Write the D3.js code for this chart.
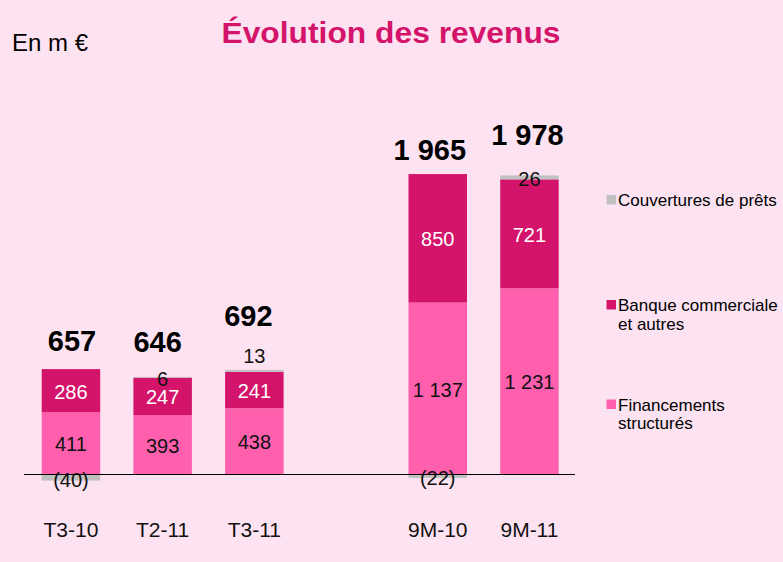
<!DOCTYPE html>
<html>
<head>
<meta charset="utf-8">
<script src="https://cdn.jsdelivr.net/npm/d3@7"></script>
<style>
  html, body { margin: 0; padding: 0; background: #FDE3F1; }
  svg { display: block; font-family: "Liberation Sans", Arial, sans-serif; }
</style>
</head>
<body>
<svg id="chart" width="783" height="562"></svg>
<script>
// ---- Data ----
const categories = ["T3-10", "T2-11", "T3-11", "9M-10", "9M-11"];
const financements = [411, 393, 438, 1137, 1231];
const banque = [286, 247, 241, 850, 721];
const couvertures = [-40, 6, 13, -22, 26];
const totals = [657, 646, 692, 1965, 1978];
const totalLabels = ["657", "646", "692", "1 965", "1 978"];
const finLabels = ["411", "393", "438", "1 137", "1 231"];
const banqueLabels = ["286", "247", "241", "850", "721"];
const couvLabels = ["(40)", "6", "13", "(22)", "26"];
const seriesNames = ["Couvertures de prêts", "Banque commerciale|et autres", "Financements|structurés"];

// ---- Layout ----
const colors = { fin: "#FF5FAD", banque: "#D4136A", couv: "#C0C0C0" };
const svg = d3.select("#chart");
const W = 783, H = 562;
svg.append("rect").attr("width", W).attr("height", H).attr("fill", "#FDE3F1");

const slots = ["T3-10", "T2-11", "T3-11", "_gap", "9M-10", "9M-11"];
const x = d3.scaleBand().domain(slots).range([25.1, 575.3])
  .paddingInner(0.362).paddingOuter(0.181);
const y = d3.scaleLinear().domain([0, 2000]).range([474.5, 172.1]);

const rows = categories.map((c, i) => ({
  cat: c, fin: financements[i], banque: banque[i], couv: couvertures[i],
  total: totals[i], tl: totalLabels[i], fl: finLabels[i], bl: banqueLabels[i], cl: couvLabels[i]
}));

// label placement tweaks (layout only)
const couvAbove = { "T3-11": true };
const totalDy = { "T3-10": 0, "T2-11": -2, "T3-11": -5, "9M-10": 4, "9M-11": -9 };
const totalDx = { "T3-10": 1, "T2-11": -5, "T3-11": -6, "9M-10": -8, "9M-11": -2 };

const g = svg.append("g");

rows.forEach(d => {
  const bx = x(d.cat), bw = x.bandwidth(), cx = bx + bw / 2;
  // financements
  g.append("rect").attr("x", bx).attr("width", bw)
    .attr("y", y(d.fin)).attr("height", y(0) - y(d.fin)).attr("fill", colors.fin);
  // banque
  const top2 = d.fin + d.banque;
  g.append("rect").attr("x", bx).attr("width", bw)
    .attr("y", y(top2)).attr("height", y(d.fin) - y(top2)).attr("fill", colors.banque);
  // couvertures
  let c0, c1;
  if (d.couv >= 0) { c0 = top2; c1 = top2 + d.couv; } else { c0 = d.couv; c1 = 0; }
  g.append("rect").attr("x", bx).attr("width", bw)
    .attr("y", y(c1)).attr("height", y(c0) - y(c1)).attr("fill", colors.couv);

  // segment labels
  g.append("text").attr("x", cx).attr("y", (y(0) + y(d.fin)) / 2 + 1)
    .attr("dy", "0.35em").attr("text-anchor", "middle")
    .attr("font-size", 20).attr("fill", "#111").text(d.fl);
  g.append("text").attr("x", cx).attr("y", (y(d.fin) + y(top2)) / 2 + 1)
    .attr("dy", "0.35em").attr("text-anchor", "middle")
    .attr("font-size", 20).attr("fill", "#fff").text(d.bl);

  let couvCenter;
  if (couvAbove[d.cat]) couvCenter = y(c1) - 14;
  else couvCenter = (y(c0) + y(c1)) / 2 + 2;
  g.append("text").attr("x", cx).attr("y", couvCenter)
    .attr("dy", "0.35em").attr("text-anchor", "middle")
    .attr("font-size", 20).attr("fill", "#111").text(d.cl);

  // total label
  const barTop = y(Math.max(top2, c1));
  const labelTop = d.couv > 0 ? Math.min(barTop, couvCenter - 7) : barTop;
  g.append("text").attr("x", cx + (totalDx[d.cat] || 0))
    .attr("y", labelTop - 18 + (totalDy[d.cat] || 0))
    .attr("text-anchor", "middle").attr("font-size", 29).attr("font-weight", "bold")
    .attr("fill", "#000").text(d.tl);

  // category label
  g.append("text").attr("x", cx).attr("y", 537)
    .attr("text-anchor", "middle").attr("font-size", 21).attr("fill", "#111").text(d.cat);
});

// baseline
svg.append("line").attr("x1", 24).attr("x2", 575)
  .attr("y1", y(0)).attr("y2", y(0)).attr("stroke", "#000").attr("stroke-width", 1.2);

// title & unit
svg.append("text").attr("x", 391).attr("y", 43).attr("text-anchor", "middle")
  .attr("font-size", 30).attr("font-weight", "bold").attr("fill", "#D4136A")
  .attr("textLength", 339).attr("lengthAdjust", "spacingAndGlyphs")
  .text("Évolution des revenus");
svg.append("text").attr("x", 12).attr("y", 51)
  .attr("font-size", 24).attr("fill", "#000")
  .text("En m €");

// legend
const legendItems = [
  { name: seriesNames[0], color: colors.couv, base: 206 },
  { name: seriesNames[1], color: colors.banque, base: 311 },
  { name: seriesNames[2], color: colors.fin, base: 410.5 }
];
legendItems.forEach(it => {
  svg.append("rect").attr("x", 606.5).attr("y", it.base - 11).attr("width", 9.5).attr("height", 9.5)
    .attr("fill", it.color);
  const t = svg.append("text").attr("x", 618).attr("y", it.base)
    .attr("font-size", 17).attr("fill", "#000");
  it.name.split("|").forEach((line, j) => {
    t.append("tspan").attr("x", 618).attr("dy", j === 0 ? 0 : 18.5).text(line);
  });
});
</script>
</body>
</html>
